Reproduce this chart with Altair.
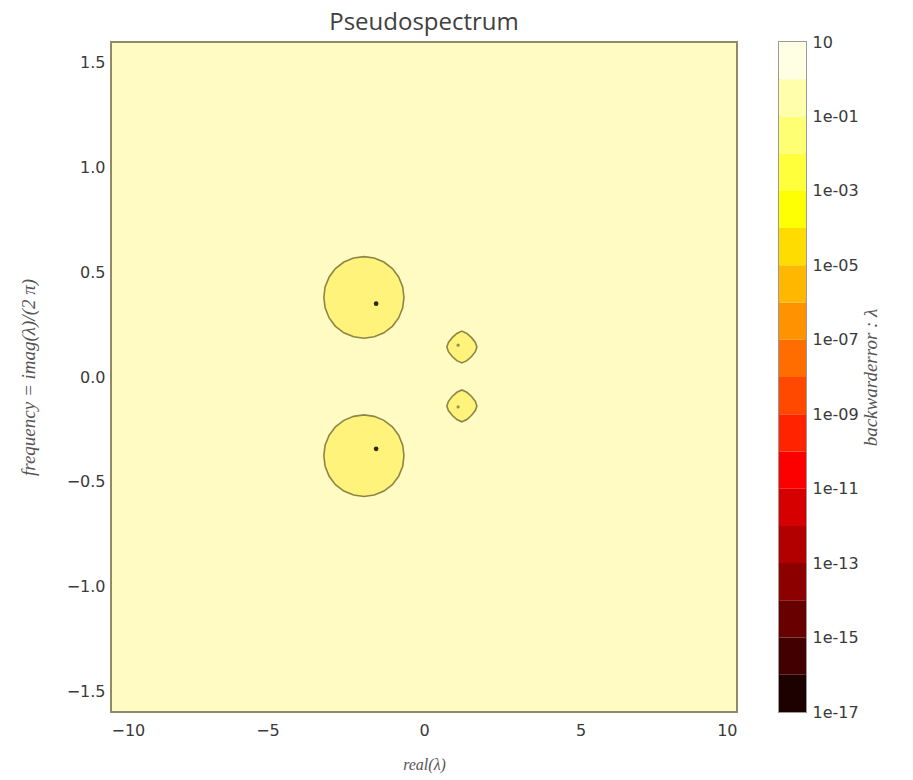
import altair as alt
import pandas as pd

# ---------------- data ----------------
x_ticks = [-10, -5, 0, 5, 10]
y_ticks = [-1.5, -1.0, -0.5, 0.0, 0.5, 1.0, 1.5]

# contour outlines: x positions with upper / lower boundary
circle_x = [-3.20, -3.16, -3.03, -2.83, -2.56, -2.25, -1.92, -1.59, -1.28, -1.01, -0.81, -0.68, -0.64]
upper_circle_top = [0.38, 0.43, 0.478, 0.518, 0.549, 0.568, 0.575, 0.568, 0.549, 0.518, 0.478, 0.43, 0.38]
upper_circle_bot = [0.38, 0.33, 0.282, 0.242, 0.211, 0.192, 0.185, 0.192, 0.211, 0.242, 0.282, 0.33, 0.38]
lower_circle_top = [-0.376, -0.326, -0.278, -0.238, -0.207, -0.188, -0.181, -0.188, -0.207, -0.238, -0.278, -0.326, -0.376]
lower_circle_bot = [-0.376, -0.426, -0.474, -0.514, -0.545, -0.564, -0.571, -0.564, -0.545, -0.514, -0.474, -0.426, -0.376]

diamond_x = [0.73, 0.78, 0.90, 1.05, 1.21, 1.37, 1.52, 1.64, 1.69]
upper_diamond_top = [0.143, 0.165, 0.188, 0.208, 0.219, 0.208, 0.188, 0.165, 0.143]
upper_diamond_bot = [0.143, 0.121, 0.098, 0.078, 0.067, 0.078, 0.098, 0.121, 0.143]
lower_diamond_top = [-0.138, -0.116, -0.093, -0.073, -0.062, -0.073, -0.093, -0.116, -0.138]
lower_diamond_bot = [-0.138, -0.160, -0.183, -0.203, -0.214, -0.203, -0.183, -0.160, -0.138]

# eigenvalues
eig_big_x = [-1.53, -1.53]
eig_big_y = [0.35, -0.343]
eig_small_x = [1.09, 1.09]
eig_small_y = [0.152, -0.143]

# colorbar bands (decades) and colors (hot colormap)
band_lo = [1e-17, 1e-16, 1e-15, 1e-14, 1e-13, 1e-12, 1e-11, 1e-10, 1e-09,
           1e-08, 1e-07, 1e-06, 1e-05, 1e-04, 1e-03, 1e-02, 1e-01, 1e+00]
band_hi = [1e-16, 1e-15, 1e-14, 1e-13, 1e-12, 1e-11, 1e-10, 1e-09, 1e-08,
           1e-07, 1e-06, 1e-05, 1e-04, 1e-03, 1e-02, 1e-01, 1e+00, 1e+01]
band_colors = ["#1d0000", "#420000", "#680000", "#8d0000", "#b20000", "#d70000",
               "#fc0000", "#ff2300", "#ff4800", "#ff6d00", "#ff9200", "#ffb700",
               "#ffdc00", "#ffff04", "#ffff3c", "#ffff74", "#ffffab", "#ffffe3"]
cbar_ticks = [1e1, 1e-1, 1e-3, 1e-5, 1e-7, 1e-9, 1e-11, 1e-13, 1e-15, 1e-17]

# ---------------- tables ----------------
rows = []
for name, xs, tops, bots in [
    ("c1", circle_x, upper_circle_top, upper_circle_bot),
    ("c2", circle_x, lower_circle_top, lower_circle_bot),
    ("d1", diamond_x, upper_diamond_top, upper_diamond_bot),
    ("d2", diamond_x, lower_diamond_top, lower_diamond_bot),
]:
    for x, t, b in zip(xs, tops, bots):
        rows.append({"contour": name, "x": x, "top": t, "bot": b})
contours = pd.DataFrame(rows)
big = pd.DataFrame({"x": eig_big_x, "y": eig_big_y})
small = pd.DataFrame({"x": eig_small_x, "y": eig_small_y})
bands = pd.DataFrame({"lo": band_lo, "hi": band_hi, "k": list(range(len(band_lo)))})

label_font = "DejaVu Sans"
math_font = "Liberation Serif"
text_col = "#3a3a3a"

xscale = alt.Scale(domain=[-10, 10], nice=False, zero=False)
yscale = alt.Scale(domain=[-1.6, 1.6], nice=False, zero=False)

xaxis = alt.Axis(values=x_ticks, format="d", title="real(λ)", ticks=False, domain=False,
                 grid=False, labelPadding=10, labelFontSize=16, labelFont=label_font,
                 labelColor=text_col, titleFont=math_font, titleFontStyle="italic",
                 titleFontWeight="normal", titleFontSize=16, titleColor="#555555",
                 titlePadding=18)
yaxis = alt.Axis(values=y_ticks, format=".1f", title="frequency = imag(λ)/(2 π)",
                 ticks=False, domain=False, grid=False, labelPadding=6,
                 labelFontSize=16, labelFont=label_font, labelColor=text_col,
                 titleFont=math_font, titleFontStyle="italic", titleFontWeight="normal",
                 titleFontSize=19, titleColor="#555555", titlePadding=28)

areas = alt.Chart(contours).mark_area(
    fill="#fff37c", stroke="#6e6a2e", strokeWidth=1.6, strokeOpacity=0.8
).encode(
    x=alt.X("x:Q", scale=xscale, axis=xaxis),
    y=alt.Y("top:Q", scale=yscale, axis=yaxis),
    y2="bot:Q",
    detail="contour:N",
)
dots_big = alt.Chart(big).mark_circle(size=22, color="#2a2a10", opacity=1).encode(
    x="x:Q", y="y:Q")
dots_small = alt.Chart(small).mark_circle(size=10, color="#8a8650", opacity=0.9).encode(
    x="x:Q", y="y:Q")

plot = alt.layer(areas, dots_big, dots_small).properties(
    width=626, height=670,
    title=alt.TitleParams("Pseudospectrum", fontSize=24, font="Open Sans",
                          fontWeight="normal", color="#404040", offset=7),
    view=alt.ViewBackground(fill="#fffbc2", stroke="#8f8a68", strokeWidth=2),
)

cbar = alt.Chart(bands).mark_rect().encode(
    x=alt.value(0), x2=alt.value(27),
    y=alt.Y("lo:Q", scale=alt.Scale(type="log", domain=[1e-17, 10], nice=False),
            axis=alt.Axis(orient="right", values=cbar_ticks, ticks=False, domain=False,
                          grid=False, labelPadding=6, labelFontSize=16,
                          labelFont=label_font, labelColor=text_col,
                          labelExpr="datum.value > 5 ? '10' : '1e-' + (round(-log(datum.value)/LN10) < 10 ? '0' : '') + round(-log(datum.value)/LN10)",
                          title="backwarderror : λ", titleFont=math_font,
                          titleFontStyle="italic", titleFontWeight="normal",
                          titleFontSize=19, titleColor="#555555", titleAngle=270,
                          titlePadding=22)),
    y2="hi:Q",
    color=alt.Color("k:O", scale=alt.Scale(range=band_colors), legend=None),
).properties(
    width=27, height=670,
    view=alt.ViewBackground(stroke="#9a9a9a", strokeWidth=2),
)

chart = alt.hconcat(plot, cbar, spacing=40).properties(
    padding={"left": 18, "top": 10, "right": 5, "bottom": 5},
    background="white",
)

chart.save("out.html", embed_options={"renderer": "svg", "actions": False})
